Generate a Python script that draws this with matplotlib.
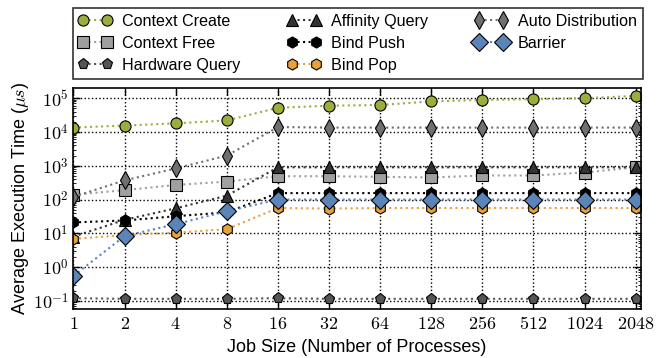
import numpy as np
import matplotlib
matplotlib.use('Agg')
import matplotlib.pyplot as plt
from matplotlib.ticker import FixedLocator, FixedFormatter, NullFormatter

plt.rcParams['font.family'] = ['Liberation Sans', 'DejaVu Sans']
plt.rcParams['mathtext.fontset'] = 'cm'

# job sizes
job_sizes = [1, 2, 4, 8, 16, 32, 64, 128, 256, 512, 1024, 2048]

# average execution time (us)
context_create = [1.35e4, 1.55e4, 1.8e4, 2.2e4, 5.2e4, 6.0e4, 6.3e4, 8.0e4, 8.9e4, 9.3e4, 1.0e5, 1.17e5]
context_free = [138, 190, 270, 340, 490, 490, 470, 450, 515, 515, 630, 900]
hardware_query = [0.12, 0.115, 0.115, 0.115, 0.12, 0.115, 0.115, 0.115, 0.115, 0.115, 0.115, 0.115]
affinity_query = [8, 25, 55, 130, 900, 900, 900, 900, 900, 900, 900, 900]
bind_push = [21, 24, 32, 42, 155, 155, 155, 155, 155, 155, 155, 155]
bind_pop = [6.8, 8.9, 10.4, 13.3, 56, 54, 56, 56, 56, 56, 56, 56]
auto_distribution = [120, 370, 830, 2000, 1.4e4, 1.35e4, 1.35e4, 1.35e4, 1.35e4, 1.35e4, 1.35e4, 1.35e4]
barrier = [0.55, 8.3, 18.6, 45, 100, 100, 100, 100, 100, 100, 100, 100]

y_exps = [-1, 0, 1, 2, 3, 4, 5]

x = np.arange(len(job_sizes))

series = [
    ('Context Create', context_create, 'o', '#9aae3c', 8),
    ('Context Free', context_free, 's', '#a0a0a0', 8),
    ('Hardware Query', hardware_query, 'p', '#555555', 8),
    ('Affinity Query', affinity_query, '^', '#333333', 9),
    ('Bind Push', bind_push, 'h', '#000000', 8),
    ('Bind Pop', bind_pop, 'h', '#e8a13c', 8),
    ('Auto Distribution', auto_distribution, 'd', '#707070', 9),
    ('Barrier', barrier, 'D', '#5b84b8', 9),
]

fig = plt.figure(figsize=(6.62, 3.58), dpi=100)
ax = fig.add_axes([0.111, 0.136, 0.857, 0.618])

for name, vals, mk, col, ms in series:
    ax.plot(x, vals, linestyle=':', linewidth=1.5, color=col, marker=mk,
            markersize=ms, markerfacecolor=col, markeredgecolor='black',
            markeredgewidth=0.8, label=name)

ax.set_yscale('log')
ax.set_ylim(10**-1.25, 10**5.3)
ax.set_xlim(0, 11.1)
ax.xaxis.set_major_locator(FixedLocator(x))
ax.xaxis.set_major_formatter(FixedFormatter(['$%d$' % j for j in job_sizes]))
ax.yaxis.set_major_locator(FixedLocator([10.0**e for e in y_exps]))
ax.yaxis.set_major_formatter(FixedFormatter(['$10^{%d}$' % e for e in y_exps]))
minors = [m * 10.0**e for e in [-2] + y_exps for m in range(2, 10)]
minors = [v for v in minors if 10**-1.25 < v < 10**5.3]
ax.yaxis.set_minor_locator(FixedLocator(minors))
ax.yaxis.set_minor_formatter(NullFormatter())

ax.tick_params(axis='both', which='both', direction='in', top=True, right=True, labelsize=13)
ax.tick_params(axis='both', which='major', length=5, width=1)
ax.tick_params(axis='y', which='minor', length=2.5)
ax.tick_params(axis='x', pad=5)
ax.grid(True, which='major', linestyle=':', color='black', linewidth=1)
for s in ax.spines.values():
    s.set_linewidth(1.2)

ax.set_xlabel('Job Size (Number of Processes)', fontsize=13, labelpad=4)
ax.set_ylabel(r'Average Execution Time ($\mu s$)', fontsize=13, labelpad=1)

leg = fig.legend(loc='upper left', bbox_to_anchor=(0.110, 0.978),
                 ncol=3, numpoints=2, fontsize=11.6, fancybox=False,
                 frameon=True, edgecolor='black', borderaxespad=0, handlelength=2.1,
                 labelspacing=0.45, columnspacing=2.9, handletextpad=0.6,
                 borderpad=0.35)
leg.get_frame().set_linewidth(1.2)

fig.savefig('out.png', dpi=100)
